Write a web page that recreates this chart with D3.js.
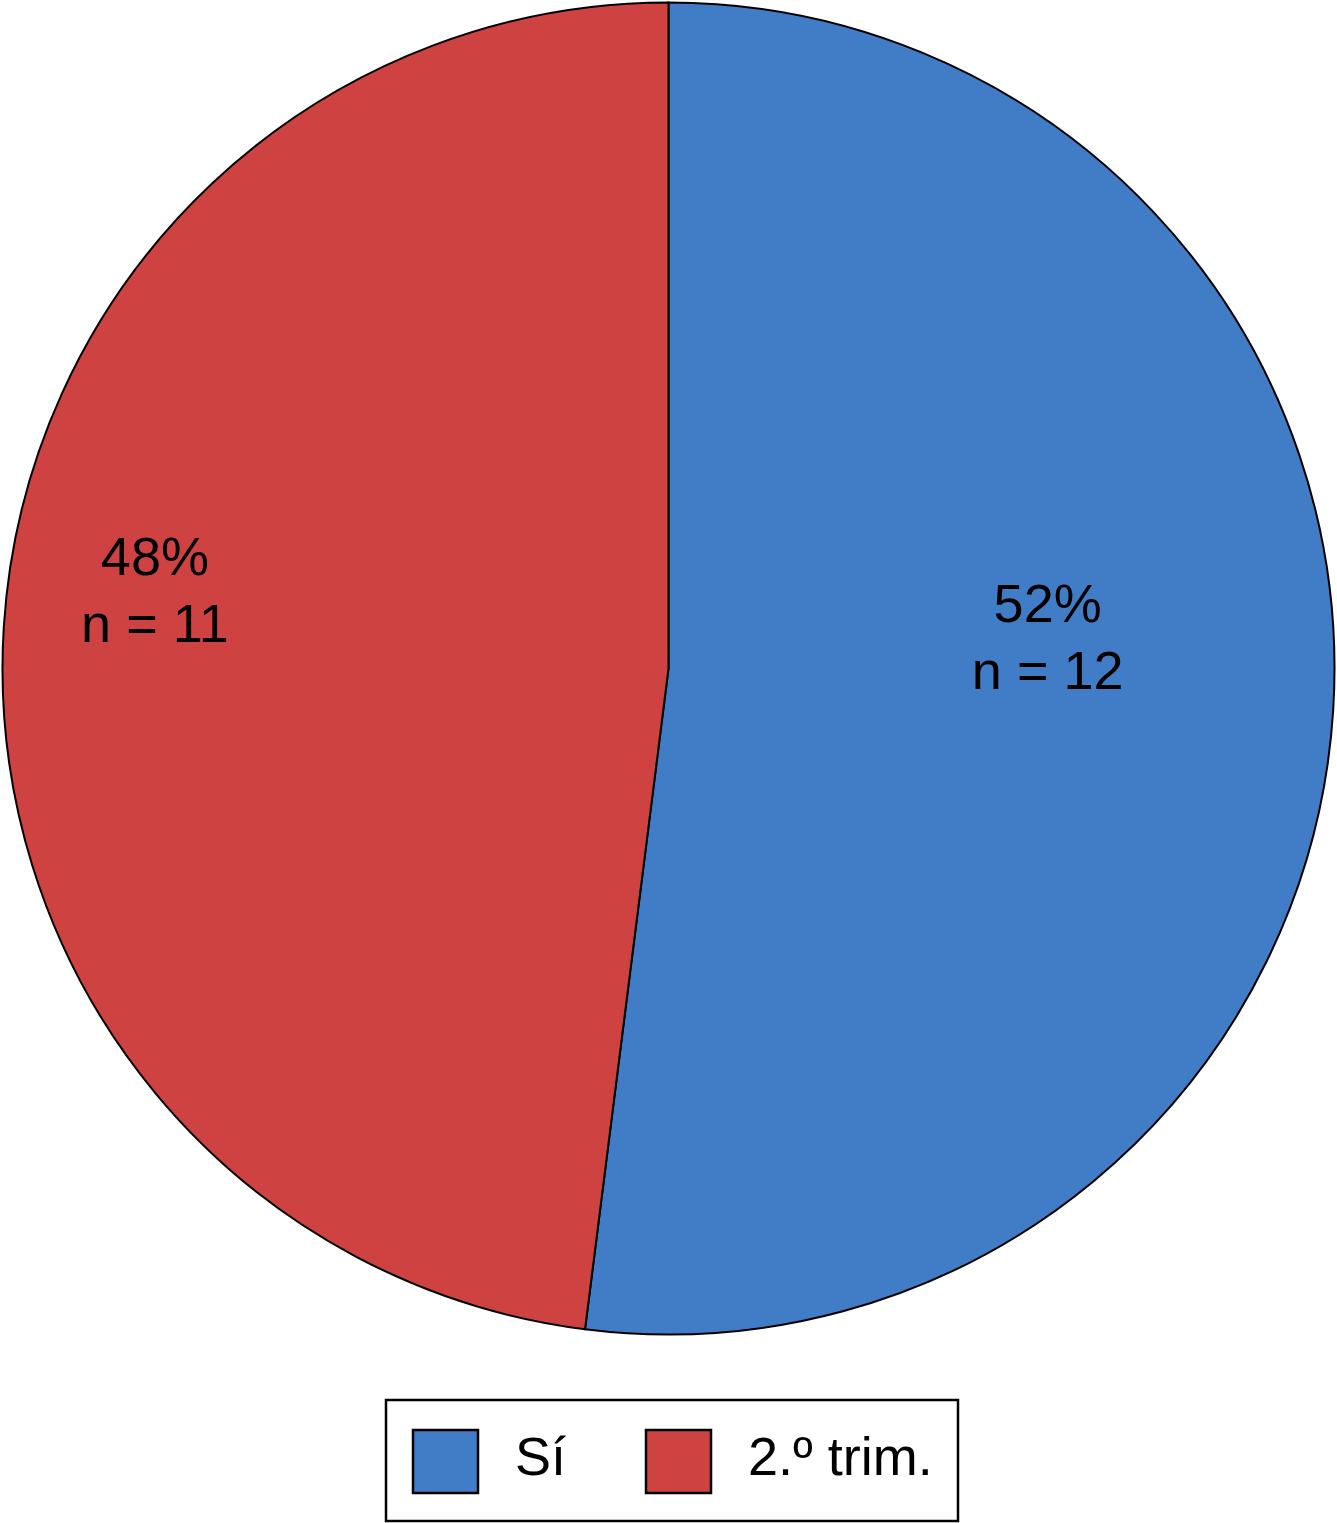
<!DOCTYPE html>
<html lang='es'>
<head>
  <meta charset='UTF-8'>
  <title>Pie</title>
  <style>
  body { margin: 0; background: white; }
  text { font-family: 'Liberation Sans', Arial, sans-serif; fill: black; }
  .label { font-size: 54px; }
  .legend text { font-size: 54px; }
  </style>
  <script src='https://d3js.org/d3.v7.min.js'></script>
</head>
<body>
  <script>

  var categories = ['Sí', '2.º trim.'];
  var counts = [12, 11];
  var percents = [52, 48];
  var colors = ['#417dc7', '#ce4341'];

  var svgWidth = 1337;
  var svgHeight = 1523;
  var cx = 668.5, cy = 668.5, radius = 666;

  // where the labels sit (polar, from the centre, clockwise from top)
  var labelAngle = [83, 280.3];
  var labelRadius = [382, 522];

  var svg = d3.select('body').append('svg')
    .attr('width', svgWidth)
    .attr('height', svgHeight);

  var data = categories.map(function (c, i) {
    return { name: c, n: counts[i], pct: percents[i], color: colors[i], i: i };
  });

  var pie = d3.pie().sort(null).value(function (d) { return d.pct; });
  var arc = d3.arc().innerRadius(0).outerRadius(radius);

  var g = svg.append('g').attr('transform', 'translate(' + cx + ',' + cy + ')');

  var arcs = pie(data);

  g.selectAll('path')
    .data(arcs)
    .enter()
    .append('path')
    .attr('d', arc)
    .attr('fill', function (d) { return d.data.color; })
    .attr('stroke', 'black')
    .attr('stroke-width', 2);

  // labels
  var labels = g.selectAll('.label')
    .data(arcs)
    .enter()
    .append('text')
    .attr('class', 'label')
    .attr('text-anchor', 'middle')
    .attr('transform', function (d) {
      var a = labelAngle[d.data.i] * Math.PI / 180;
      var r = labelRadius[d.data.i];
      return 'translate(' + (r * Math.sin(a)) + ',' + (-r * Math.cos(a)) + ')';
    });

  labels.append('tspan').attr('x', 0).attr('y', 0).text(function (d) { return d.data.pct + '%'; });
  labels.append('tspan').attr('x', 0).attr('y', 67).text(function (d) { return 'n = ' + d.data.n; });

  // legend
  var legend = svg.append('g').attr('class', 'legend');

  legend.append('rect')
    .attr('x', 386).attr('y', 1400)
    .attr('width', 572).attr('height', 121)
    .attr('fill', 'white')
    .attr('stroke', 'black')
    .attr('stroke-width', 2.5);

  var itemX = d3.scalePoint().domain(categories).range([413, 646]);

  var items = legend.selectAll('.item')
    .data(data)
    .enter()
    .append('g')
    .attr('class', 'item')
    .attr('transform', function (d) { return 'translate(' + itemX(d.name) + ',1430)'; });

  items.append('rect')
    .attr('width', 65).attr('height', 63)
    .attr('fill', function (d) { return d.color; })
    .attr('stroke', 'black')
    .attr('stroke-width', 2.5);

  items.append('text')
    .attr('x', 102).attr('y', 45)
    .text(function (d) { return d.name; });

  </script>
</body>
</html>
